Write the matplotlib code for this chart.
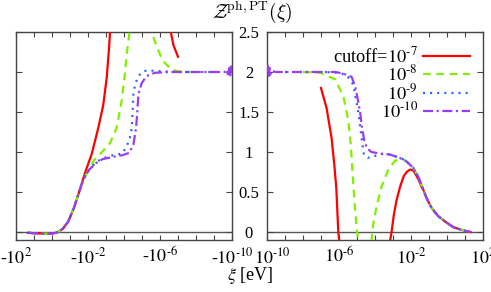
import numpy as np
import matplotlib
matplotlib.use("Agg")
import matplotlib.pyplot as plt
from matplotlib.ticker import FixedLocator, FixedFormatter, NullLocator
from matplotlib.transforms import ScaledTranslation

plt.rcParams['font.family'] = ['Liberation Serif', 'DejaVu Serif']
plt.rcParams['mathtext.fontset'] = 'stix'

# ---- data: exponents L = log10|xi| and Z values ----
# left panel (xi < 0)
neg_purple_L = [1.33, 1.0, 0.5, 0.0, -0.3, -0.6, -0.9, -1.2, -1.45, -1.65, -1.85, -2.07, -2.44, -2.8, -3.4, -3.9, -4.3,
                -4.52, -4.67, -4.74, -4.8, -4.98, -5.26, -5.72, -6.5, -9.6, -9.7, -9.78, -9.85, -9.9, -9.95, -10.0]
neg_purple_Z = [-0.01, -0.015, -0.02, -0.02, -0.005, 0.04, 0.13, 0.29, 0.46, 0.6, 0.7, 0.78, 0.86, 0.91, 0.94, 0.96, 0.99,
                1.09, 1.3, 1.51, 1.72, 1.86, 1.95, 1.99, 2.0, 2.0, 2.03, 1.97, 2.05, 1.94, 2.07, 2.0]

neg_blue_L = [1.33, 1.0, 0.5, 0.0, -0.3, -0.6, -0.9, -1.2, -1.45, -1.65, -1.85, -2.07, -2.44, -2.8, -3.4, -3.9, -4.15,
              -4.33, -4.43, -4.48, -4.52, -4.61, -4.8, -5.07, -5.35, -6.0, -7.0, -9.0]
neg_blue_Z = [-0.01, -0.015, -0.02, -0.02, -0.005, 0.04, 0.13, 0.29, 0.46, 0.6, 0.7, 0.78, 0.87, 0.92, 0.96, 0.98, 1.07,
              1.18, 1.3, 1.51, 1.72, 1.84, 1.95, 2.01, 2.02, 2.01, 2.0, 2.0]

neg_green_L = [1.33, 1.0, 0.5, 0.0, -0.3, -0.6, -0.9, -1.2, -1.45, -1.65, -1.85, -2.07, -2.35, -2.7, -3.22, -3.59,
               -3.87, -4.02, -4.15, -4.29, -4.35]
neg_green_Z = [-0.01, -0.015, -0.02, -0.02, -0.005, 0.04, 0.13, 0.29, 0.46, 0.6, 0.7, 0.79, 0.9, 0.98, 1.11, 1.3,
               1.64, 1.92, 2.22, 2.47, 2.6]
neg_green2_L = [-5.5, -5.54, -5.72, -6.0, -6.28, -6.65, -7.0, -7.5, -8.0]
neg_green2_Z = [2.6, 2.5, 2.38, 2.22, 2.11, 2.03, 2.01, 2.0, 2.0]

neg_red_L = [1.33, 1.0, 0.5, 0.0, -0.3, -0.6, -0.9, -1.2, -1.45, -1.65, -1.85, -2.2, -2.57, -2.85, -3.04, -3.17, -3.25]
neg_red_Z = [-0.01, -0.015, -0.02, -0.02, -0.005, 0.04, 0.13, 0.29, 0.46, 0.6, 0.75, 0.97, 1.3, 1.59, 1.93, 2.3, 2.6]
neg_red2_L = [-6.5, -6.56, -6.74, -7.0]
neg_red2_Z = [2.65, 2.55, 2.34, 2.19]

# right panel (xi > 0)
pos_purple_L = [-10.0, -9.95, -9.9, -9.85, -9.8, -9.7, -9.5, -7.0, -6.2, -5.76, -5.3, -5.1, -4.95, -4.83, -4.72, -4.6,
                -4.45, -4.2, -3.72, -3.2, -2.8, -2.45, -2.24, -1.87, -1.59, -1.4, -1.3, -1.13, -0.85, -0.5, -0.1,
                0.35, 0.9, 1.3]
pos_purple_Z = [2.0, 2.08, 1.93, 2.05, 1.97, 2.01, 2.0, 2.0, 2.0, 1.98, 1.94, 1.82, 1.65, 1.5, 1.3, 1.15,
                1.05, 1.0, 0.98, 0.97, 0.94, 0.91, 0.88, 0.8, 0.69, 0.58, 0.52, 0.42, 0.30, 0.2, 0.13,
                0.06, 0.02, 0.0]

pos_blue_L = [-9.0, -6.8, -6.0, -5.57, -5.2, -4.93, -4.74, -4.61, -4.4, -4.2, -3.9, -3.5, -3.2, -2.8, -2.45, -2.24,
              -1.87, -1.59, -1.4, -1.3, -1.13, -0.85, -0.5, -0.1, 0.35, 0.9, 1.3]
pos_blue_Z = [2.0, 2.0, 1.99, 1.96, 1.84, 1.5, 1.17, 0.96, 0.93, 0.93, 0.96, 0.98, 0.97, 0.94, 0.91, 0.88,
              0.8, 0.69, 0.58, 0.52, 0.42, 0.30, 0.2, 0.13, 0.06, 0.02, 0.0]

pos_green_L = [-8.0, -7.0, -6.78, -6.22, -5.76, -5.48, -5.35, -5.25, -5.12, -5.0, -4.93]
pos_green_Z = [2.0, 1.99, 1.96, 1.91, 1.7, 1.39, 1.1, 0.75, 0.32, 0.0, -0.12]
pos_green2_L = [-4.2, -4.09, -3.91, -3.63, -3.26, -2.89, -2.6, -2.45, -2.24, -1.87, -1.59, -1.4, -1.3, -1.13,
                -0.85, -0.5, -0.1, 0.35, 0.9, 1.3]
pos_green2_Z = [-0.12, 0.11, 0.32, 0.57, 0.78, 0.89, 0.915, 0.91, 0.88, 0.8, 0.69, 0.58, 0.52, 0.42,
                0.30, 0.2, 0.13, 0.06, 0.02, 0.0]

pos_red_L = [-7.0, -6.69, -6.41, -6.26, -6.15, -6.04, -5.98]
pos_red_Z = [1.8, 1.55, 1.17, 0.84, 0.55, 0.0, -0.12]
pos_red2_L = [-3.17, -3.08, -2.95, -2.8, -2.6, -2.4, -2.24, -2.06, -1.87, -1.59, -1.4, -1.3, -1.13, -0.85, -0.5,
              -0.1, 0.35, 0.9, 1.3]
pos_red2_Z = [-0.12, 0.0, 0.22, 0.4, 0.57, 0.7, 0.75, 0.78, 0.77, 0.66, 0.56, 0.52, 0.42, 0.30, 0.2,
              0.13, 0.06, 0.02, 0.0]

HY = '\u2010'  # short hyphen as in the reference
legend_labels = ['cutoff=$10^{%s7}$' % HY, '$10^{%s8}$' % HY, '$10^{%s9}$' % HY, '$10^{%s10}$' % HY]
y_ticks = [0, 0.5, 1, 1.5, 2, 2.5]
y_ticklabels = ['0', '0.5', '1', '1.5', '2', '2.5']
decades = list(range(-10, 3))
left_labels = {2: '-$10^{2}$', -2: '-$10^{%s2}$' % HY, -6: '-$10^{%s6}$' % HY, -10: '-$10^{%s10}$' % HY}
right_labels = {-10: '$10^{%s10}$' % HY, -6: '$10^{%s6}$' % HY, -2: '$10^{%s2}$' % HY, 2: '$10^{2}$'}

# ---- styles ----
RED = '#ff0000'
GREEN = '#80f000'
BLUE = '#2a62ff'
PURPLE = '#9b3cf5'
LW = 1.6
st = {
    'red': dict(color=RED, lw=LW, ls='-'),
    'green': dict(color=GREEN, lw=LW, ls=(0, (3.5, 2.5))),
    'blue': dict(color=BLUE, lw=LW, ls=(0, (0.9, 2.3))),
    'purple': dict(color=PURPLE, lw=LW, ls=(0, (4.5, 1.6, 1.0, 1.6))),
}

W, H = 491, 292
fig = plt.figure(figsize=(W / 100, H / 100), dpi=100)
axL = fig.add_axes([16 / W, 1 - 240 / H, 216 / W, 208 / H])
axR = fig.add_axes([267 / W, 1 - 240 / H, 216 / W, 208 / H])

def p(L):
    return 10.0 ** np.asarray(L)

# left
axL.plot(p(neg_red_L), neg_red_Z, **st['red'], zorder=3)
axL.plot(p(neg_red2_L), neg_red2_Z, **st['red'], zorder=3)
axL.plot(p(neg_green_L), neg_green_Z, **st['green'], zorder=4)
axL.plot(p(neg_green2_L), neg_green2_Z, **st['green'], zorder=4)
axL.plot(p(neg_blue_L), neg_blue_Z, **st['blue'], zorder=5)
axL.plot(p(neg_purple_L), neg_purple_Z, **st['purple'], zorder=6)
# right
hr, = axR.plot(p(pos_red_L), pos_red_Z, **st['red'], zorder=3)
axR.plot(p(pos_red2_L), pos_red2_Z, **st['red'], zorder=3)
hg, = axR.plot(p(pos_green_L), pos_green_Z, **st['green'], zorder=4)
axR.plot(p(pos_green2_L), pos_green2_Z, **st['green'], zorder=4)
hb, = axR.plot(p(pos_blue_L), pos_blue_Z, **st['blue'], zorder=5)
hp, = axR.plot(p(pos_purple_L), pos_purple_Z, **st['purple'], zorder=6)

FRAME = '#444444'
for ax, labels in ((axL, left_labels), (axR, right_labels)):
    ax.set_xscale('log')
    ax.axhline(0, color='#555555', lw=1.0, zorder=1)
    ax.set_ylim(-0.1, 2.5)
    ax.xaxis.set_major_locator(FixedLocator([10.0 ** d for d in decades]))
    ax.xaxis.set_minor_locator(NullLocator())
    ax.xaxis.set_major_formatter(FixedFormatter([labels.get(d, '') for d in decades]))
    ax.tick_params(axis='x', which='major', direction='in', top=True, bottom=True,
                   length=3.5, width=0.8, color=FRAME, labelsize=13, pad=5)
    ax.set_yticks(y_ticks)
    ax.tick_params(axis='y', direction='in', left=True, right=True, length=4, width=0.8, color=FRAME)
    for s in ax.spines.values():
        s.set_color(FRAME)
        s.set_linewidth(1.0)

axL.set_xlim(1e2, 1e-10)
axR.set_xlim(1e-10, 1e2)
axL.set_yticklabels([])
axR.set_yticklabels(y_ticklabels)
axR.tick_params(axis='y', labelsize=12, pad=13)
for t in axR.get_yticklabels():
    t.set_horizontalalignment('center')

# nudge the first right-panel x label to the right, as in the reference
fig.canvas.draw()
for t in axR.get_xticklabels():
    if t.get_text() == right_labels[-10]:
        t.set_transform(t.get_transform() + ScaledTranslation(5 / 100, 0, fig.dpi_scale_trans))

leg = axR.legend([hr, hg, hb, hp], legend_labels, loc='upper right', markerfirst=False, frameon=False,
                 fontsize=13.2, handlelength=2.6, handletextpad=0.25, labelspacing=-0.1,
                 borderaxespad=0.0, bbox_to_anchor=(0.975, 0.965))

fig.text(252 / W, 1 - 12 / H, r'$\mathcal{Z}^{\rm ph,PT}(\xi)$', ha='center', va='center', fontsize=14,
         math_fontfamily='cm')
fig.text(250 / W, 1 - 275 / H, r'$\xi$ [eV]', ha='center', va='center', fontsize=13)

fig.savefig('out.png', dpi=100)
